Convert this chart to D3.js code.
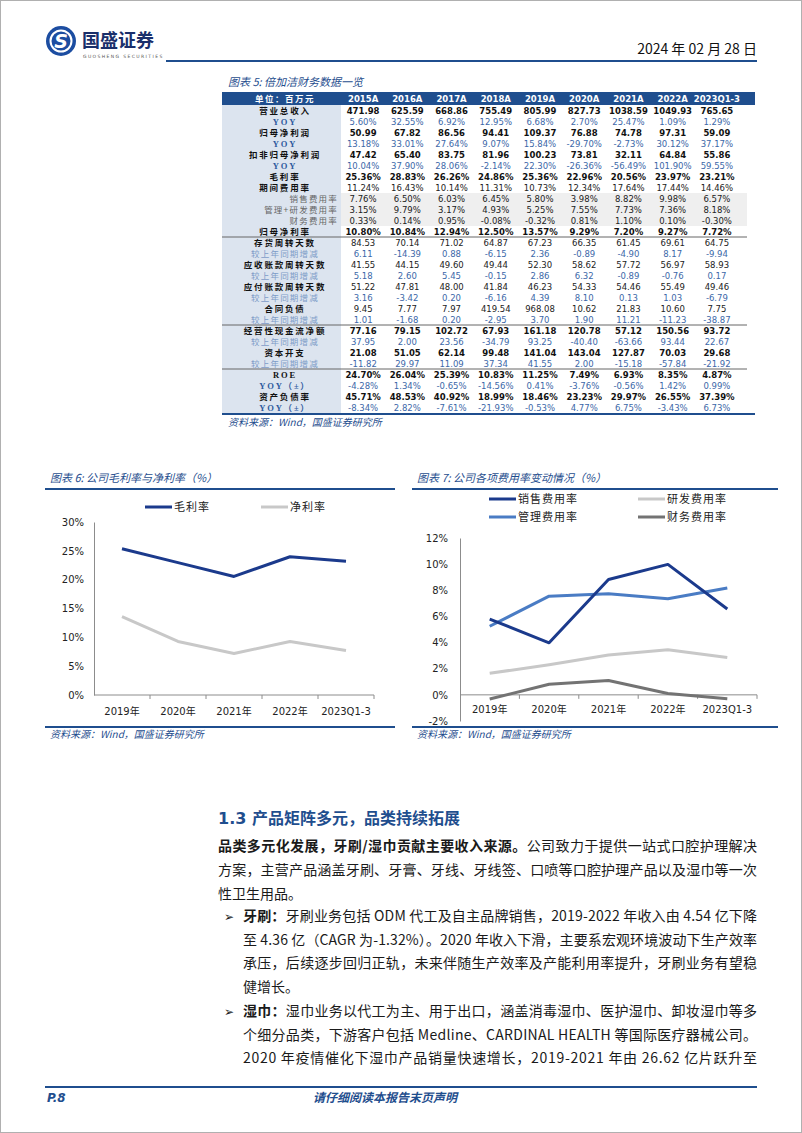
<!DOCTYPE html>
<html>
<head>
<meta charset="utf-8">
<script src="https://cdn.jsdelivr.net/npm/d3@7"></script>
<style>
body { margin: 0; background: #fff; }
svg { display: block; font-family: "Noto Sans CJK SC", "DejaVu Sans", sans-serif; }
</style>
</head>
<body>
<svg id="page" width="802" height="1133"></svg>
<script>
// ---- table data (图表5) ----
const tableCols = ["2015A", "2016A", "2017A", "2018A", "2019A", "2020A", "2021A", "2022A", "2023Q1-3"];
const rowLabels = ["营业总收入", "YOY", "归母净利润", "YOY", "扣非归母净利润", "YOY", "毛利率", "期间费用率",
  "销售费用率", "管理+研发费用率", "财务费用率", "归母净利率",
  "存货周转天数", "较上年同期增减", "应收账款周转天数", "较上年同期增减", "应付账款周转天数", "较上年同期增减",
  "合同负债", "较上年同期增减", "经营性现金流净额", "较上年同期增减", "资本开支", "较上年同期增减",
  "ROE", "YOY（±）", "资产负债率", "YOY（±）"];
// main = bold label + bold values, plain = bold label + regular values,
// yoy / chg = blue rows, sub = indented expense rows
const rowKinds = ["main", "yoy", "main", "yoy", "main", "yoy", "main", "plain",
  "sub", "sub", "sub", "main",
  "plain", "chg", "plain", "chg", "plain", "chg", "plain", "chg",
  "main", "chg", "main", "chg",
  "main", "yoy", "main", "yoy"];
const tableValues = [
  ["471.98", "625.59", "668.86", "755.49", "805.99", "827.73", "1038.59", "1049.93", "765.65"],
  ["5.60%", "32.55%", "6.92%", "12.95%", "6.68%", "2.70%", "25.47%", "1.09%", "1.29%"],
  ["50.99", "67.82", "86.56", "94.41", "109.37", "76.88", "74.78", "97.31", "59.09"],
  ["13.18%", "33.01%", "27.64%", "9.07%", "15.84%", "-29.70%", "-2.73%", "30.12%", "37.17%"],
  ["47.42", "65.40", "83.75", "81.96", "100.23", "73.81", "32.11", "64.84", "55.86"],
  ["10.04%", "37.90%", "28.06%", "-2.14%", "22.30%", "-26.36%", "-56.49%", "101.90%", "59.55%"],
  ["25.36%", "28.83%", "26.26%", "24.86%", "25.36%", "22.96%", "20.56%", "23.97%", "23.21%"],
  ["11.24%", "16.43%", "10.14%", "11.31%", "10.73%", "12.34%", "17.64%", "17.44%", "14.46%"],
  ["7.76%", "6.50%", "6.03%", "6.45%", "5.80%", "3.98%", "8.82%", "9.98%", "6.57%"],
  ["3.15%", "9.79%", "3.17%", "4.93%", "5.25%", "7.55%", "7.73%", "7.36%", "8.18%"],
  ["0.33%", "0.14%", "0.95%", "-0.08%", "-0.32%", "0.81%", "1.10%", "0.10%", "-0.30%"],
  ["10.80%", "10.84%", "12.94%", "12.50%", "13.57%", "9.29%", "7.20%", "9.27%", "7.72%"],
  ["84.53", "70.14", "71.02", "64.87", "67.23", "66.35", "61.45", "69.61", "64.75"],
  ["6.11", "-14.39", "0.88", "-6.15", "2.36", "-0.89", "-4.90", "8.17", "-9.94"],
  ["41.55", "44.15", "49.60", "49.44", "52.30", "58.62", "57.72", "56.97", "58.93"],
  ["5.18", "2.60", "5.45", "-0.15", "2.86", "6.32", "-0.89", "-0.76", "0.17"],
  ["51.22", "47.81", "48.00", "41.84", "46.23", "54.33", "54.46", "55.49", "49.46"],
  ["3.16", "-3.42", "0.20", "-6.16", "4.39", "8.10", "0.13", "1.03", "-6.79"],
  ["9.45", "7.77", "7.97", "419.54", "968.08", "10.62", "21.83", "10.60", "7.75"],
  ["1.01", "-1.68", "0.20", "-2.95", "3.70", "1.90", "11.21", "-11.23", "-38.87"],
  ["77.16", "79.15", "102.72", "67.93", "161.18", "120.78", "57.12", "150.56", "93.72"],
  ["37.95", "2.00", "23.56", "-34.79", "93.25", "-40.40", "-63.66", "93.44", "22.67"],
  ["21.08", "51.05", "62.14", "99.48", "141.04", "143.04", "127.87", "70.03", "29.68"],
  ["-11.82", "29.97", "11.09", "37.34", "41.55", "2.00", "-15.18", "-57.84", "-21.92"],
  ["24.70%", "26.04%", "25.39%", "10.83%", "11.25%", "7.49%", "6.93%", "8.35%", "4.87%"],
  ["-4.28%", "1.34%", "-0.65%", "-14.56%", "0.41%", "-3.76%", "-0.56%", "1.42%", "0.99%"],
  ["45.71%", "48.53%", "40.92%", "18.99%", "18.46%", "23.23%", "29.97%", "26.55%", "37.39%"],
  ["-8.34%", "2.82%", "-7.61%", "-21.93%", "-0.53%", "4.77%", "6.75%", "-3.43%", "6.73%"]
];

// ---- chart data (图表6 / 图表7) ----
const years = ["2019年", "2020年", "2021年", "2022年", "2023Q1-3"];
const grossMargin = [25.36, 22.96, 20.56, 23.97, 23.21];
const netMargin = [13.57, 9.29, 7.20, 9.27, 7.72];
const sellingRate = [5.80, 3.98, 8.82, 9.98, 6.57];
const rdRate = [1.65, 2.3, 3.05, 3.45, 2.85];
const adminRate = [5.25, 7.55, 7.73, 7.36, 8.18];
const financeRate = [-0.32, 0.81, 1.10, 0.10, -0.30];
const pctTicks6 = [0, 5, 10, 15, 20, 25, 30];
const pctTicks7 = [-2, 0, 2, 4, 6, 8, 10, 12];

const blue = "#1F4E8E";
const navy = "#1B3A8C";
const svg = d3.select("#page");

svg.append("rect").attr("x", 0.5).attr("y", 0.5).attr("width", 801).attr("height", 1132)
  .attr("fill", "#fff").attr("stroke", "#b0b0b0");

// ---- header ----
let logo = svg.append("g").attr("transform", "translate(61,41)");
logo.append("circle").attr("r", 15).attr("fill", "#1C4DA1");
logo.append("circle").attr("r", 10.5).attr("fill", "none").attr("stroke", "#fff").attr("stroke-width", 2);
logo.append("text").attr("y", 7).attr("text-anchor", "middle").attr("fill", "#fff")
  .style("font-size", "19px").style("font-weight", 700).style("font-style", "italic")
  .style("font-family", "DejaVu Sans").text("S");
svg.append("text").attr("x", 82).attr("y", 47).attr("fill", "#1a2f6b")
  .style("font-size", "18px").style("font-weight", 700).text("国盛证券");
svg.append("text").attr("x", 83).attr("y", 58).attr("fill", "#555")
  .style("font-size", "4.5px").style("letter-spacing", "1.4px").style("font-family", "DejaVu Sans")
  .text("GUOSHENG SECURITIES");
svg.append("text").attr("x", 757).attr("y", 54).attr("text-anchor", "end").attr("fill", "#111")
  .style("font-size", "14px").text("2024 年 02 月 28 日");
svg.append("line").attr("x1", 166).attr("x2", 757).attr("y1", 61).attr("y2", 61)
  .attr("stroke", blue).attr("stroke-width", 2);

// ---- table ----
svg.append("text").attr("x", 228).attr("y", 86).attr("fill", blue)
  .style("font-size", "11px").style("font-style", "italic").text("图表 5:  倍加洁财务数据一览");

let colX = d3.scaleBand().domain(tableCols).range([341, 739]);
let rowY = d3.scaleBand().domain(d3.range(rowLabels.length)).range([105, 413]);
let rh = rowY.bandwidth();

let table = svg.append("g");
table.append("rect").attr("x", 222).attr("y", 92).attr("width", 533).attr("height", 13).attr("fill", blue);
table.append("rect").attr("x", 222).attr("y", 105).attr("width", 119).attr("height", 308).attr("fill", "#DCE4EF");
table.append("rect").attr("x", 341).attr("y", rowY(8)).attr("width", 406).attr("height", rh * 3).attr("fill", "#EFEFEF");

table.append("text").attr("x", 285).attr("y", 102).attr("text-anchor", "middle").attr("fill", "#fff")
  .style("font-size", "8.5px").style("font-weight", 700).style("letter-spacing", "1.5px").text("单位：百万元");
table.selectAll(".hd").data(tableCols).enter().append("text")
  .attr("x", d => colX(d) + colX.bandwidth() / 2).attr("y", 102)
  .attr("text-anchor", "middle").attr("fill", "#fff")
  .style("font-family", "DejaVu Sans").style("font-size", "8.5px").style("font-weight", 700)
  .text(d => d);

[12, 20, 24].forEach(i => {
  table.append("line").attr("x1", 222).attr("x2", 747).attr("y1", rowY(i)).attr("y2", rowY(i))
    .attr("stroke", "#666").attr("stroke-width", 1);
});
table.append("line").attr("x1", 222).attr("x2", 755).attr("y1", 414).attr("y2", 414)
  .attr("stroke", blue).attr("stroke-width", 2);

let labelColor = { main: "#111", plain: "#111", yoy: "#2E5A9E", chg: "#7E9CC8", sub: "#666" };
let valueColor = { main: "#111", plain: "#222", yoy: "#3C67A8", chg: "#3C67A8", sub: "#222" };

table.selectAll(".lb").data(rowLabels).enter().append("text")
  .attr("x", (d, i) => rowKinds[i] == "sub" ? 338 : 285)
  .attr("y", (d, i) => rowY(i) + rh / 2 + 3.2)
  .attr("text-anchor", (d, i) => rowKinds[i] == "sub" ? "end" : "middle")
  .attr("fill", (d, i) => labelColor[rowKinds[i]])
  .style("font-size", "8.5px")
  .style("letter-spacing", (d, i) => rowKinds[i] == "sub" || rowKinds[i] == "chg" ? "1.2px" : "1.8px")
  .style("font-family", d => /^(YOY|ROE)/.test(d) ? "Liberation Serif, Noto Sans CJK SC" : null)
  .style("font-weight", (d, i) => rowKinds[i] == "sub" || rowKinds[i] == "chg" ? 400 : 700)
  .text(d => d);

tableValues.forEach((row, i) => {
  table.selectAll(".v" + i).data(row).enter().append("text")
    .attr("x", (d, j) => colX(tableCols[j]) + colX.bandwidth() / 2)
    .attr("y", rowY(i) + rh / 2 + 3.2)
    .attr("text-anchor", "middle")
    .attr("fill", valueColor[rowKinds[i]])
    .style("font-family", "DejaVu Sans")
    .style("font-size", "8.5px")
    .style("font-weight", rowKinds[i] == "main" ? 700 : 400)
    .text(d => d);
});

svg.append("text").attr("x", 228).attr("y", 426).attr("fill", blue)
  .style("font-size", "10px").style("font-style", "italic").text("资料来源：Wind，国盛证券研究所");

// ---- line chart helper ----
function drawFrame(x0, x1, title) {
  svg.append("text").attr("x", x0 + 5).attr("y", 482).attr("fill", blue)
    .style("font-size", "11px").style("font-style", "italic").text(title);
  svg.append("line").attr("x1", x0).attr("x2", x1).attr("y1", 489).attr("y2", 489)
    .attr("stroke", blue).attr("stroke-width", 2);
  svg.append("line").attr("x1", x0).attr("x2", x1).attr("y1", 727).attr("y2", 727)
    .attr("stroke", blue).attr("stroke-width", 2);
  svg.append("text").attr("x", x0 + 5).attr("y", 738).attr("fill", blue)
    .style("font-size", "10px").style("font-style", "italic").text("资料来源：Wind，国盛证券研究所");
}

function drawAxes(g, x, y, ticks, labelPad, xLabelY) {
  let yAxis = g.append("g").attr("transform", "translate(" + x.range()[0] + ",0)")
    .call(d3.axisLeft(y).tickValues(ticks).tickFormat(d => d + "%").tickSize(0).tickPadding(labelPad));
  yAxis.select(".domain").attr("stroke", "#8c8c8c");
  yAxis.selectAll("text").style("font-family", "DejaVu Sans").style("font-size", "10px").attr("fill", "#222");

  let y0 = y(0);
  g.append("line").attr("x1", x.range()[0]).attr("x2", x.range()[1]).attr("y1", y0).attr("y2", y0)
    .attr("stroke", "#8c8c8c");
  let bounds = x.domain().map(d => x(d)).concat([x.range()[1]]);
  g.selectAll(".bt").data(bounds.slice(1)).enter().append("line")
    .attr("x1", d => d).attr("x2", d => d).attr("y1", y0).attr("y2", y0 + 4).attr("stroke", "#8c8c8c");
  g.selectAll(".xl").data(x.domain()).enter().append("text")
    .attr("x", d => x(d) + x.bandwidth() / 2).attr("y", xLabelY)
    .attr("text-anchor", "middle").attr("fill", "#222")
    .style("font-size", "10px").style("font-family", "DejaVu Sans, Noto Sans CJK SC")
    .text(d => d);
}

function drawSeries(g, x, y, values, color) {
  let line = d3.line()
    .x((d, i) => x(years[i]) + x.bandwidth() / 2)
    .y(d => y(d));
  g.append("path").attr("d", line(values)).attr("fill", "none")
    .attr("stroke", color).attr("stroke-width", 3).attr("stroke-linejoin", "round");
}

function legendItem(g, lx, ly, color, label) {
  g.append("line").attr("x1", lx).attr("x2", lx + 27).attr("y1", ly).attr("y2", ly)
    .attr("stroke", color).attr("stroke-width", 3);
  g.append("text").attr("x", lx + 29).attr("y", ly + 4).attr("fill", "#222")
    .style("font-size", "11px").style("letter-spacing", "1px").text(label);
}

// ---- 图表6 ----
drawFrame(45, 395, "图表 6:  公司毛利率与净利率（%）");
let g6 = svg.append("g");
let x6 = d3.scaleBand().domain(years).range([94, 374]);
let y6 = d3.scaleLinear().domain([0, 30]).range([695, 522]);
drawAxes(g6, x6, y6, pctTicks6, 10, 715);
drawSeries(g6, x6, y6, netMargin, "#C8C8C8");
drawSeries(g6, x6, y6, grossMargin, navy);
legendItem(g6, 145, 507, navy, "毛利率");
legendItem(g6, 261, 507, "#C8C8C8", "净利率");

// ---- 图表7 ----
drawFrame(412, 778, "图表 7:  公司各项费用率变动情况（%）");
let g7 = svg.append("g");
let x7 = d3.scaleBand().domain(years).range([460, 757]);
let y7 = d3.scaleLinear().domain([-2, 12]).range([721, 538]);
drawAxes(g7, x7, y7, pctTicks7, 12, 713);
drawSeries(g7, x7, y7, rdRate, "#C8C8C8");
drawSeries(g7, x7, y7, financeRate, "#737373");
drawSeries(g7, x7, y7, adminRate, "#4A7CC4");
drawSeries(g7, x7, y7, sellingRate, navy);
legendItem(g7, 489, 499, navy, "销售费用率");
legendItem(g7, 638, 499, "#C8C8C8", "研发费用率");
legendItem(g7, 489, 517, "#4A7CC4", "管理费用率");
legendItem(g7, 638, 517, "#737373", "财务费用率");

// ---- text section ----
let heading = svg.append("text").attr("x", 218).attr("y", 824).attr("fill", blue)
  .style("font-size", "16px").style("font-weight", 700);
heading.append("tspan").style("font-family", "DejaVu Sans").text("1.3 ");
heading.append("tspan").text("产品矩阵多元，品类持续拓展");

function bodyLine(x, y, parts, full) {
  let t = svg.append("text").attr("x", x).attr("y", y).attr("fill", "#1a1a1a").style("font-size", "14px");
  parts.forEach(p => t.append("tspan").style("font-weight", p[1] ? 700 : 400).text(p[0]));
  if (full) t.attr("textLength", 757 - x).attr("lengthAdjust", "spacing");
}

bodyLine(218, 851, [["品类多元化发展，牙刷/湿巾贡献主要收入来源。", true], ["公司致力于提供一站式口腔护理解决"]], true);
bodyLine(218, 875, [["方案，主营产品涵盖牙刷、牙膏、牙线、牙线签、口喷等口腔护理产品以及湿巾等一次"]], true);
bodyLine(218, 899, [["性卫生用品。"]], false);

svg.append("text").attr("x", 224).attr("y", 921).style("font-size", "12px").attr("fill", "#222").text("➢");
bodyLine(243, 921, [["牙刷：", true], ["牙刷业务包括 ODM 代工及自主品牌销售，2019-2022 年收入由 4.54 亿下降"]], true);
bodyLine(243, 945, [["至 4.36 亿（CAGR 为-1.32%）。2020 年收入下滑，主要系宏观环境波动下生产效率"]], true);
bodyLine(243, 968, [["承压，后续逐步回归正轨，未来伴随生产效率及产能利用率提升，牙刷业务有望稳"]], true);
bodyLine(243, 992, [["健增长。"]], false);

svg.append("text").attr("x", 224).attr("y", 1016).style("font-size", "12px").attr("fill", "#222").text("➢");
bodyLine(243, 1016, [["湿巾：", true], ["湿巾业务以代工为主、用于出口，涵盖消毒湿巾、医护湿巾、卸妆湿巾等多"]], true);
bodyLine(243, 1040, [["个细分品类，下游客户包括 Medline、CARDINAL HEALTH 等国际医疗器械公司。"]], true);
bodyLine(243, 1063, [["2020 年疫情催化下湿巾产品销量快速增长，2019-2021 年由 26.62 亿片跃升至"]], true);

// ---- footer ----
svg.append("line").attr("x1", 45).attr("x2", 757).attr("y1", 1087).attr("y2", 1087)
  .attr("stroke", blue).attr("stroke-width", 2);
svg.append("text").attr("x", 47).attr("y", 1102).attr("fill", blue)
  .style("font-size", "12px").style("font-weight", 700).style("font-style", "italic")
  .style("font-family", "DejaVu Sans").text("P.8");
svg.append("text").attr("x", 385).attr("y", 1102).attr("text-anchor", "middle").attr("fill", blue)
  .style("font-size", "12px").style("font-weight", 700).style("font-style", "italic")
  .text("请仔细阅读本报告末页声明");
</script>
</body>
</html>
